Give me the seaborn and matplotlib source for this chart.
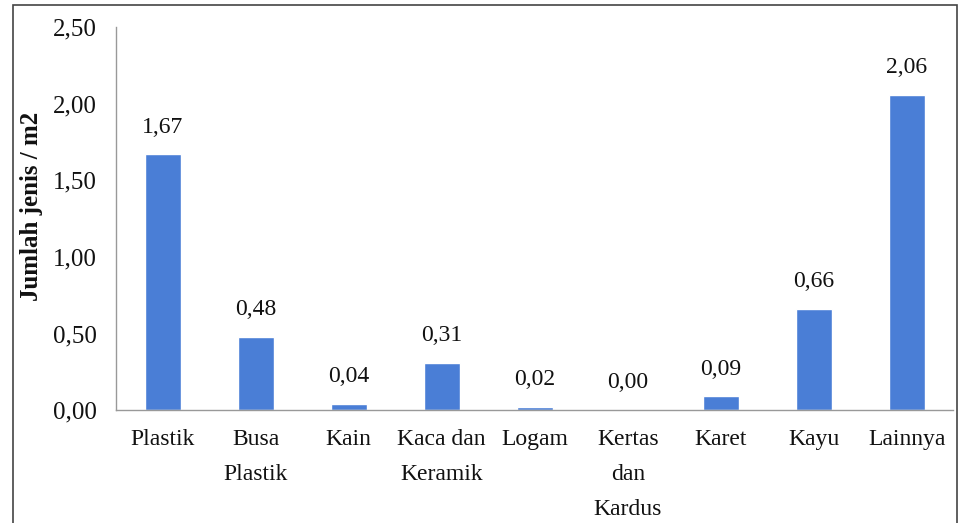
import matplotlib
matplotlib.use('Agg')
import matplotlib.pyplot as plt
import seaborn as sns
import pandas as pd
from matplotlib.patches import Rectangle
from matplotlib.ticker import FuncFormatter

# data
kategori = ['Plastik', 'Busa\nPlastik', 'Kain', 'Kaca dan\nKeramik', 'Logam',
            'Kertas\ndan\nKardus', 'Karet', 'Kayu', 'Lainnya']
jumlah = [1.67, 0.48, 0.04, 0.31, 0.02, 0.00, 0.09, 0.66, 2.06]
y_ticks = [0.0, 0.5, 1.0, 1.5, 2.0, 2.5]

BAR_COL = '#4a7ed6'
AX_COL = '#999999'
TXT_COL = '#111111'

sns.set_theme(style='white')
plt.rcParams['font.family'] = ['Liberation Serif', 'DejaVu Serif']

df = pd.DataFrame({'kategori': kategori, 'jumlah': jumlah})

fig = plt.figure(figsize=(9.6, 5.23), dpi=100)
ax = fig.add_axes([0.121, 0.216, 0.872, 0.732])

sns.barplot(data=df, x='kategori', y='jumlah', color=BAR_COL, width=0.39,
            saturation=1, ax=ax)

ax.set_ylim(0, 2.5)
ax.set_yticks(y_ticks)
ax.yaxis.set_major_formatter(FuncFormatter(lambda v, p: f'{v:.2f}'.replace('.', ',')))
ax.tick_params(axis='both', length=0, colors=TXT_COL)
ax.tick_params(axis='y', pad=14, labelsize=18)
ax.tick_params(axis='x', pad=14, labelsize=17)
for lab in ax.get_xticklabels():
    lab.set_linespacing(1.85)
    lab.set_verticalalignment('top')

for s in ['top', 'right']:
    ax.spines[s].set_visible(False)
for s in ['left', 'bottom']:
    ax.spines[s].set_color(AX_COL)
    ax.spines[s].set_linewidth(1.0)

ax.set_xlabel('')
ax.set_ylabel('Jumlah jenis / m2', fontsize=18, fontweight='bold', color=TXT_COL)
ax.yaxis.set_label_coords(-0.087, 0.533)

for i, v in enumerate(jumlah):
    ax.annotate(f'{v:.2f}'.replace('.', ','), (i, v), xytext=(0, 19.5),
                textcoords='offset points', ha='center', va='center',
                fontsize=17, color=TXT_COL)

# outer frame like the original document figure
fig.patches.append(Rectangle((13 / 960, -0.05), (957 - 13) / 960, 1.05 - 5 / 523,
                             transform=fig.transFigure, fill=False,
                             edgecolor='#444444', linewidth=1.2))

fig.savefig('out.png', dpi=100)
